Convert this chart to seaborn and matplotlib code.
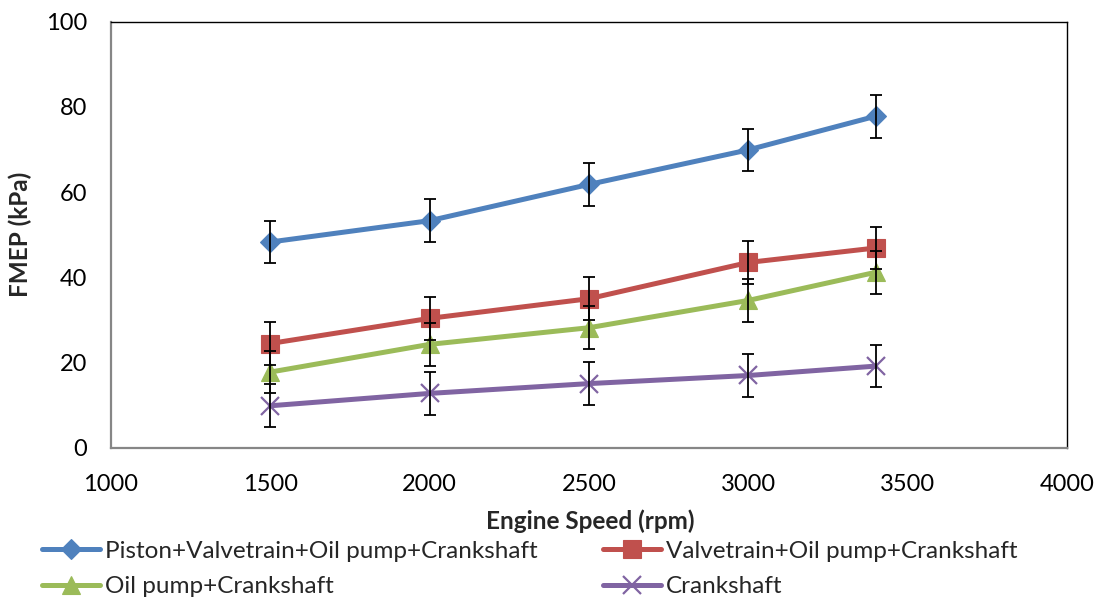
import matplotlib
matplotlib.use("Agg")
import matplotlib.pyplot as plt
from matplotlib.lines import Line2D
import seaborn as sns
import pandas as pd

# Engine speed points (rpm)
speed = [1500, 2000, 2500, 3000, 3400]

# FMEP (kPa) for each motoring teardown configuration
fmep_full = [48.3, 53.3, 61.8, 69.9, 77.8]
fmep_valvetrain = [24.5, 30.4, 35.0, 43.5, 46.9]
fmep_oilpump = [17.8, 24.3, 28.2, 34.6, 41.2]
fmep_crank = [9.9, 12.8, 15.1, 17.0, 19.2]

# Measurement uncertainty (kPa)
err_full = [5, 5, 5, 5, 5]
err_valvetrain = [5, 5, 5, 5, 5]
err_oilpump = [5, 5, 5, 5, 5]
err_crank = [5, 5, 5, 5, 5]

labels = [
    "Piston+Valvetrain+Oil pump+Crankshaft",
    "Valvetrain+Oil pump+Crankshaft",
    "Oil pump+Crankshaft",
    "Crankshaft",
]
x_ticks = [1000, 1500, 2000, 2500, 3000, 3500, 4000]
y_ticks = [0, 20, 40, 60, 80, 100]

colors = ["#4F81BD", "#C0504D", "#9BBB59", "#8064A2"]
markers = ["D", "s", "^", "x"]
msizes = [10, 13, 13, 13]

sns.set_style("white")
plt.rcParams["font.family"] = ["Lato", "DejaVu Sans"]

fig = plt.figure(figsize=(11.02, 5.99), dpi=100)
ax = fig.add_axes([0.1007, 0.2521, 0.8675, 0.712])

series = [
    (fmep_full, err_full),
    (fmep_valvetrain, err_valvetrain),
    (fmep_oilpump, err_oilpump),
    (fmep_crank, err_crank),
]

frames = []
for lab, (vals, errs) in zip(labels, series):
    frames.append(pd.DataFrame({"speed": speed, "fmep": vals, "err": errs, "config": lab}))
df = pd.concat(frames, ignore_index=True)

for i, lab in enumerate(labels):
    sub = df[df["config"] == lab]
    mk = markers[i]
    sns.lineplot(
        data=sub, x="speed", y="fmep", ax=ax, color=colors[i],
        linewidth=3.6, marker=mk, markersize=msizes[i],
        markeredgecolor=colors[i],
        markeredgewidth=(1.6 if mk == "x" else 0.8),
        legend=False, zorder=3,
    )

for i, lab in enumerate(labels):
    sub = df[df["config"] == lab]
    ax.errorbar(sub["speed"], sub["fmep"], yerr=sub["err"], fmt="none",
                ecolor="black", elinewidth=1.3, capsize=4.3, capthick=1.3,
                zorder=4)

ax.set_xlim(1000, 4000)
ax.set_ylim(0, 100)
ax.set_xticks(x_ticks)
ax.set_yticks(y_ticks)
ax.tick_params(axis="both", direction="in", length=5, width=1.2,
               color="#868686", labelsize=17, labelcolor="black")
ax.tick_params(axis="x", pad=19)
ax.tick_params(axis="y", pad=17)

for side in ["left", "bottom"]:
    ax.spines[side].set_color("#868686")
    ax.spines[side].set_linewidth(1.6)
for side in ["top", "right"]:
    ax.spines[side].set_color("black")
    ax.spines[side].set_linewidth(1.0)

ax.set_xlabel("Engine Speed (rpm)", fontsize=17.5, fontweight="bold")
ax.set_ylabel("FMEP (kPa)", fontsize=17.5, fontweight="bold")
ax.xaxis.label.set_va("center")
ax.yaxis.label.set_va("center")
ax.xaxis.set_label_coords(0.5 + (590 - 589) / 956, (448 - 521) / 427)
ax.yaxis.set_label_coords((20 - 111) / 956, 0.5)

handles = [
    Line2D([0], [0], color=c, linewidth=3.6, marker=m, markersize=s,
           markeredgecolor=c, markeredgewidth=(1.6 if m == "x" else 0.8))
    for c, m, s in zip(colors, markers, msizes)
]

leg_kw = dict(frameon=False, fontsize=17.5, handlelength=2.4,
              handletextpad=0.2, labelspacing=0.58, borderpad=0,
              borderaxespad=0, loc="upper left")
fig.legend([handles[0], handles[2]], [labels[0], labels[2]],
           bbox_to_anchor=(0.038, 0.097), **leg_kw)
fig.legend([handles[1], handles[3]], [labels[1], labels[3]],
           bbox_to_anchor=(0.547, 0.097), **leg_kw)

fig.savefig("out.png", dpi=100)
